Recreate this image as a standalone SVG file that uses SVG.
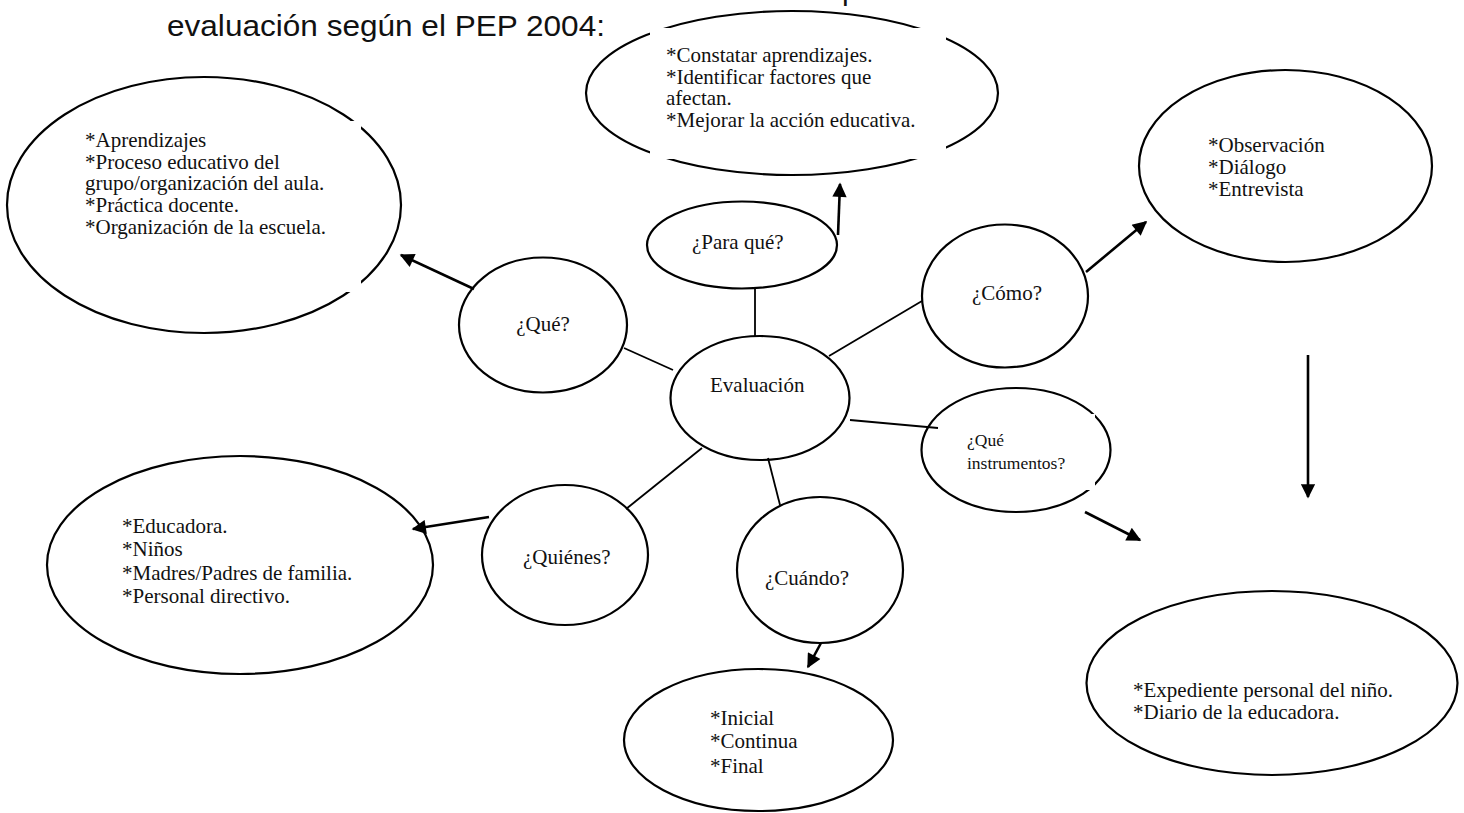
<svg xmlns="http://www.w3.org/2000/svg" width="1464" height="813" viewBox="0 0 1464 813">
  <style>
    .shape { fill: none; stroke: #000; stroke-width: 2.2; }
    .link { fill: none; stroke: #000; stroke-width: 1.8; }
    .arrow { fill: none; stroke: #000; stroke-width: 2.6; marker-end: url(#head); }
    .box { fill: #fff; stroke: none; }
    .t { font-family: "Liberation Serif", "Times New Roman", serif; font-size: 21px; fill: #111; }
    .small { font-size: 17.5px; }
    .title { font-family: "Liberation Sans", Arial, sans-serif; font-size: 30px; fill: #111; }
  </style>
  <defs>
    <marker id="head" viewBox="0 0 10 10" refX="9" refY="5" markerWidth="6" markerHeight="5.5" markerUnits="strokeWidth" orient="auto">
      <path d="M0,0 L10,5 L0,10 z" fill="#000"/>
    </marker>
  </defs>

  <rect width="1464" height="813" fill="#fff"/>

  <!-- heading line (the line above it is cut off at the top edge) -->
  <text class="title" x="842" y="0">p</text>
  <text class="title" x="167" y="36" textLength="438" lengthAdjust="spacingAndGlyphs">evaluación según el PEP 2004:</text>

  <!-- connectors -->
  <g id="connectors">
    <line class="link" x1="755" y1="289" x2="755" y2="337"/>
    <line class="link" x1="624" y1="348" x2="673" y2="370"/>
    <line class="link" x1="829" y1="356" x2="922" y2="301"/>
    <line class="link" x1="850" y1="420" x2="938" y2="428"/>
    <line class="link" x1="702" y1="448" x2="626" y2="509"/>
    <line class="link" x1="768" y1="458" x2="780" y2="505"/>
    <line class="arrow" x1="838" y1="235" x2="840" y2="184"/>
    <line class="arrow" x1="474" y1="289" x2="401" y2="255"/>
    <line class="arrow" x1="1086" y1="272" x2="1146" y2="222"/>
    <line class="arrow" x1="489" y1="517" x2="413" y2="529"/>
    <line class="arrow" x1="821" y1="643" x2="808" y2="667"/>
    <line class="arrow" x1="1308" y1="355" x2="1308" y2="497"/>
    <line class="arrow" x1="1085" y1="512" x2="1140" y2="540"/>
  </g>

  <g id="para-que-result">
    <ellipse class="shape" cx="792" cy="93" rx="206" ry="82"/>
    <rect class="box" x="650" y="28" width="296" height="131"/>
    <text class="t" x="666" y="62">*Constatar aprendizajes.</text>
    <text class="t" x="666" y="84">*Identificar factores que</text>
    <text class="t" x="666" y="105">afectan.</text>
    <text class="t" x="666" y="127">*Mejorar la acción educativa.</text>
  </g>

  <g id="que-result">
    <ellipse class="shape" cx="204" cy="205" rx="197" ry="128"/>
    <rect class="box" x="76" y="121" width="285" height="171"/>
    <text class="t" x="85" y="147">*Aprendizajes</text>
    <text class="t" x="85" y="169">*Proceso educativo del</text>
    <text class="t" x="85" y="190">grupo/organización del aula.</text>
    <text class="t" x="85" y="212">*Práctica docente.</text>
    <text class="t" x="85" y="234">*Organización de la escuela.</text>
  </g>

  <g id="para-que">
    <ellipse class="shape" cx="742" cy="245" rx="95" ry="43.5"/>
    <text class="t" x="692" y="249">¿Para qué?</text>
  </g>

  <g id="que">
    <ellipse class="shape" cx="543" cy="325" rx="84" ry="67.5"/>
    <text class="t" x="543" y="331" text-anchor="middle">¿Qué?</text>
  </g>

  <g id="evaluacion">
    <ellipse class="shape" cx="760" cy="398" rx="89.5" ry="62"/>
    <text class="t" x="710" y="392">Evaluación</text>
  </g>

  <g id="como">
    <ellipse class="shape" cx="1005" cy="296" rx="83" ry="71.5"/>
    <text class="t" x="972" y="300">¿Cómo?</text>
  </g>

  <g id="como-result">
    <ellipse class="shape" cx="1285.5" cy="166" rx="146.5" ry="96"/>
    <text class="t" x="1208" y="152">*Observación</text>
    <text class="t" x="1208" y="174">*Diálogo</text>
    <text class="t" x="1208" y="196">*Entrevista</text>
  </g>

  <g id="instrumentos">
    <ellipse class="shape" cx="1016" cy="450" rx="94.5" ry="62"/>
    <rect class="box" x="950" y="414" width="145" height="76"/>
    <text class="t small" x="967" y="446">¿Qué</text>
    <text class="t small" x="967" y="469">instrumentos?</text>
  </g>

  <g id="instrumentos-result">
    <ellipse class="shape" cx="1272" cy="683" rx="185.5" ry="92"/>
    <text class="t" x="1133" y="697">*Expediente personal del niño.</text>
    <text class="t" x="1133" y="719">*Diario de la educadora.</text>
  </g>

  <g id="quienes">
    <ellipse class="shape" cx="565" cy="555" rx="83" ry="70"/>
    <text class="t" x="523" y="564">¿Quiénes?</text>
  </g>

  <g id="quienes-result">
    <ellipse class="shape" cx="240" cy="565" rx="193" ry="109"/>
    <text class="t" x="122" y="533">*Educadora.</text>
    <text class="t" x="122" y="556">*Niños</text>
    <text class="t" x="122" y="580">*Madres/Padres de familia.</text>
    <text class="t" x="122" y="603">*Personal directivo.</text>
  </g>

  <g id="cuando">
    <ellipse class="shape" cx="820" cy="570" rx="83" ry="73"/>
    <text class="t" x="765" y="585">¿Cuándo?</text>
  </g>

  <g id="cuando-result">
    <ellipse class="shape" cx="758.5" cy="740" rx="134.5" ry="71"/>
    <text class="t" x="710" y="725">*Inicial</text>
    <text class="t" x="710" y="748">*Continua</text>
    <text class="t" x="710" y="773">*Final</text>
  </g>
</svg>
